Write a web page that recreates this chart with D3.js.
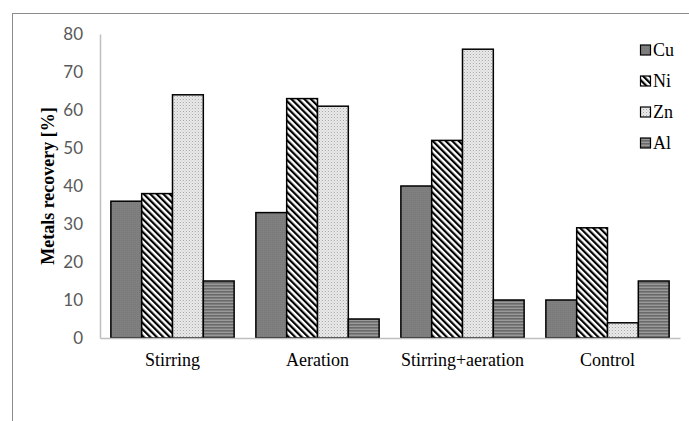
<!DOCTYPE html>
<html>
<head>
<meta charset="utf-8">
<script src="https://cdn.jsdelivr.net/npm/d3@7"></script>
<style>
  body { margin: 0; background: #fff; }
</style>
</head>
<body>
<script>
      const categories = ["Stirring", "Aeration", "Stirring+aeration", "Control"];
      const metals = ["Cu", "Ni", "Zn", "Al"];
      const cuValues = [36, 33, 40, 10];
      const niValues = [38, 63, 52, 29];
      const znValues = [64, 61, 76, 4];
      const alValues = [15, 5, 10, 15];
      const yTicks = [0, 10, 20, 30, 40, 50, 60, 70, 80];

      const width = 689;
      const height = 421;
      const margins = { top: 34, right: 9, bottom: 83, left: 100 };
      const serif = "'Liberation Serif', 'Times New Roman', serif";

      const seriesValues = { Cu: cuValues, Ni: niValues, Zn: znValues, Al: alValues };

      const data = categories.map(function (c, i) {
        return {
          category: c,
          values: metals.map(function (m) {
            return { metal: m, value: seriesValues[m][i] };
          }),
        };
      });

      const canvas = d3
        .select("body")
        .append("svg")
        .attr("width", width)
        .attr("height", height);

      // patterns
      const defs = canvas.append("defs");

      const pCu = defs
        .append("pattern")
        .attr("id", "pat-Cu")
        .attr("patternUnits", "userSpaceOnUse")
        .attr("width", 2)
        .attr("height", 2);
      pCu.append("rect").attr("width", 2).attr("height", 2).attr("fill", "#808080");
      pCu.append("rect").attr("width", 1).attr("height", 1).attr("fill", "#777777");

      const pNi = defs
        .append("pattern")
        .attr("id", "pat-Ni")
        .attr("patternUnits", "userSpaceOnUse")
        .attr("width", 4.6)
        .attr("height", 10)
        .attr("patternTransform", "rotate(-45)");
      pNi.append("rect").attr("width", 4.6).attr("height", 10).attr("fill", "#ffffff");
      pNi.append("rect").attr("width", 2.2).attr("height", 10).attr("fill", "#000000");

      const pZn = defs
        .append("pattern")
        .attr("id", "pat-Zn")
        .attr("patternUnits", "userSpaceOnUse")
        .attr("width", 3)
        .attr("height", 3);
      pZn.append("rect").attr("width", 3).attr("height", 3).attr("fill", "#ececec");
      pZn.append("rect").attr("width", 1).attr("height", 1).attr("fill", "#a0a0a0");
      pZn.append("rect").attr("x", 1.5).attr("y", 1.5).attr("width", 1).attr("height", 1).attr("fill", "#b8b8b8");

      const pAl = defs
        .append("pattern")
        .attr("id", "pat-Al")
        .attr("patternUnits", "userSpaceOnUse")
        .attr("width", 4)
        .attr("height", 3);
      pAl.append("rect").attr("width", 4).attr("height", 3).attr("fill", "#9a9a9a");
      pAl.append("rect").attr("width", 4).attr("height", 1.6).attr("fill", "#6a6a6a");

      // outer frame
      canvas
        .append("rect")
        .attr("x", 12.5)
        .attr("y", 13.5)
        .attr("width", 700)
        .attr("height", 500)
        .attr("fill", "none")
        .attr("stroke", "#8c8c8c")
        .attr("stroke-width", 1);

      const y = d3
        .scaleLinear()
        .domain([0, 80])
        .range([height - margins.bottom, margins.top]);

      const x = d3
        .scaleBand()
        .domain(categories)
        .range([margins.left, width - margins.right])
        .paddingInner(0.15)
        .paddingOuter(0.075);

      const x1 = d3
        .scaleBand()
        .domain(metals)
        .range([0, x.bandwidth()]);

      // y axis
      const yAxis = canvas
        .append("g")
        .attr("transform", "translate(" + margins.left + ",0)")
        .call(d3.axisLeft(y).tickValues(yTicks).tickSize(0).tickPadding(17))
        .attr("font-family", "Lato, 'Open Sans', sans-serif")
        .attr("font-size", 17);
      yAxis.select(".domain").attr("stroke", "#bfbfbf").attr("stroke-width", 1.5);
      yAxis.selectAll("text").attr("fill", "#595959");

      // bars
      const groups = canvas
        .selectAll(".group")
        .data(data)
        .enter()
        .append("g")
        .attr("class", "group")
        .attr("transform", function (d) {
          return "translate(" + x(d.category) + ",0)";
        });

      groups
        .selectAll("rect")
        .data(function (d) {
          return d.values;
        })
        .enter()
        .append("rect")
        .attr("x", (d) => x1(d.metal))
        .attr("width", x1.bandwidth())
        .attr("y", (d) => y(d.value))
        .attr("height", (d) => y(0) - y(d.value))
        .attr("fill", (d) => "url(#pat-" + d.metal + ")")
        .attr("stroke", "#000")
        .attr("stroke-width", 1.5);

      // x axis
      const xAxis = canvas
        .append("g")
        .attr("transform", "translate(0," + y(0) + ")")
        .call(d3.axisBottom(x).tickSize(0).tickPadding(15))
        .attr("font-family", serif)
        .attr("font-size", 18);
      xAxis.select(".domain").attr("stroke", "#bfbfbf").attr("stroke-width", 1.5);
      xAxis.selectAll("text").attr("fill", "#000");

      // y title
      canvas
        .append("text")
        .attr("transform", "translate(48," + (margins.top + (y(0) - margins.top) / 2) + ") rotate(-90)")
        .attr("text-anchor", "middle")
        .attr("dy", "0.35em")
        .attr("font-family", serif)
        .attr("font-size", 18)
        .attr("font-weight", "bold")
        .text("Metals recovery [%]");

      // legend
      const legend = canvas
        .selectAll(".legend")
        .data(metals)
        .enter()
        .append("g")
        .attr("class", "legend")
        .attr("transform", function (d, i) {
          return "translate(640," + (50 + i * 31) + ")";
        });

      legend
        .append("rect")
        .attr("x", 0.5)
        .attr("y", -5)
        .attr("width", 10)
        .attr("height", 10)
        .attr("fill", (d) => "url(#pat-" + d + ")")
        .attr("stroke", "#000")
        .attr("stroke-width", 1.2);

      legend
        .append("text")
        .attr("x", 13)
        .attr("dy", "0.35em")
        .attr("font-family", serif)
        .attr("font-size", 18)
        .text((d) => d);
</script>
</body>
</html>
